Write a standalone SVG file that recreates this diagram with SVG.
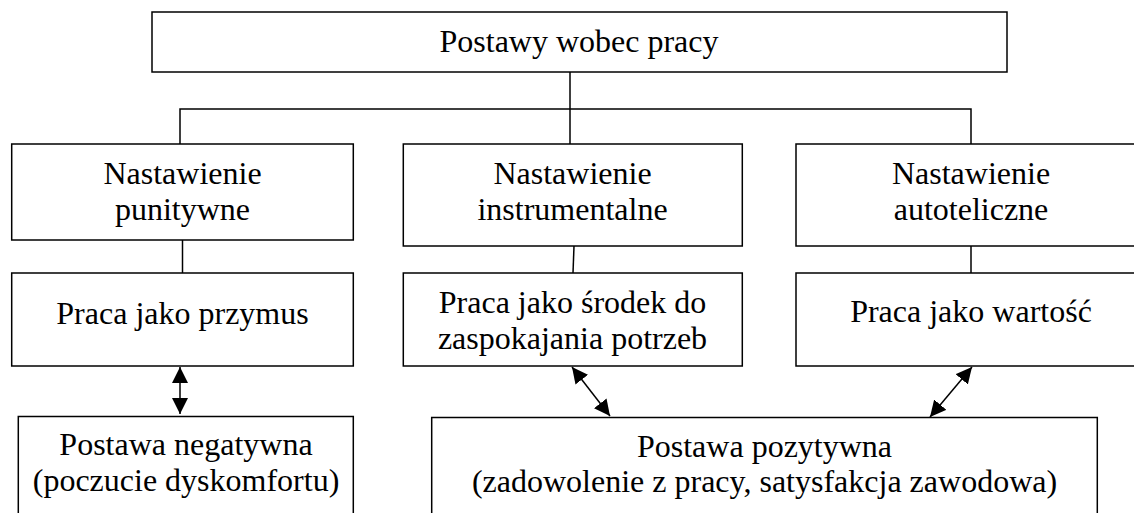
<svg xmlns="http://www.w3.org/2000/svg" width="1134" height="513" viewBox="0 0 1134 513">
  <style>
    .box { fill: #ffffff; stroke: #000000; stroke-width: 1.5; }
    text { font-family: 'Times New Roman', 'Liberation Serif', Times, serif; font-size: 32px; fill: #000000; text-anchor: middle; }
    .wire { fill: none; stroke: #000000; stroke-width: 1.5; }
    .arrow { fill: none; stroke: #000000; stroke-width: 1.5; marker-start: url(#head); marker-end: url(#head); }
  </style>
  <defs>
    <marker id="head" markerUnits="userSpaceOnUse" markerWidth="17" markerHeight="17" refX="16" refY="8" orient="auto-start-reverse" viewBox="0 0 17 17">
      <path d="M0,0 L16,8 L0,16 z" fill="#000000"/>
    </marker>
  </defs>
  <rect width="1134" height="513" fill="#ffffff"/>

  <!-- connectors -->
  <g id="connectors">
    <path class="wire" d="M570,72 V144"/>
    <path class="wire" d="M180,144 V109 H971 V144"/>
    <path class="wire" d="M182.5,240 V273"/>
    <path class="wire" d="M574,246 L573,273"/>
    <path class="wire" d="M971,246 V273"/>
    <path class="arrow" d="M180,367 V414"/>
    <path class="arrow" d="M572,367 L610,416"/>
    <path class="arrow" d="M972,367 L930,417"/>
  </g>

  <!-- top node -->
  <g id="postawy">
    <rect class="box" x="152" y="12" width="855" height="60"/>
    <text x="579" y="52">Postawy wobec pracy</text>
  </g>

  <!-- orientation level -->
  <g id="punitywne">
    <rect class="box" x="11.7" y="144" width="341.6" height="96"/>
    <text x="182.5" y="184">Nastawienie</text>
    <text x="182.5" y="220">punitywne</text>
  </g>
  <g id="instrumentalne">
    <rect class="box" x="403.3" y="144" width="339" height="102"/>
    <text x="572.5" y="184">Nastawienie</text>
    <text x="572.5" y="220">instrumentalne</text>
  </g>
  <g id="autoteliczne">
    <rect class="box" x="796" y="144" width="350" height="102"/>
    <text x="971" y="184">Nastawienie</text>
    <text x="971" y="220">autoteliczne</text>
  </g>

  <!-- meaning of work level -->
  <g id="przymus">
    <rect class="box" x="11.7" y="273" width="341.6" height="93"/>
    <text x="182.5" y="324">Praca jako przymus</text>
  </g>
  <g id="srodek">
    <rect class="box" x="403.3" y="273" width="339" height="93"/>
    <text x="572.5" y="313">Praca jako środek do</text>
    <text x="572.5" y="349">zaspokajania potrzeb</text>
  </g>
  <g id="wartosc">
    <rect class="box" x="796" y="273" width="350" height="93"/>
    <text x="971" y="322">Praca jako wartość</text>
  </g>

  <!-- attitude level -->
  <g id="negatywna">
    <rect class="box" x="18.3" y="416.5" width="335" height="120"/>
    <text x="186" y="455">Postawa negatywna</text>
    <text x="186" y="491">(poczucie dyskomfortu)</text>
  </g>
  <g id="pozytywna">
    <rect class="box" x="431.7" y="417.5" width="665.6" height="120"/>
    <text x="764.5" y="457">Postawa pozytywna</text>
    <text x="764.5" y="492">(zadowolenie z pracy, satysfakcja zawodowa)</text>
  </g>
</svg>
